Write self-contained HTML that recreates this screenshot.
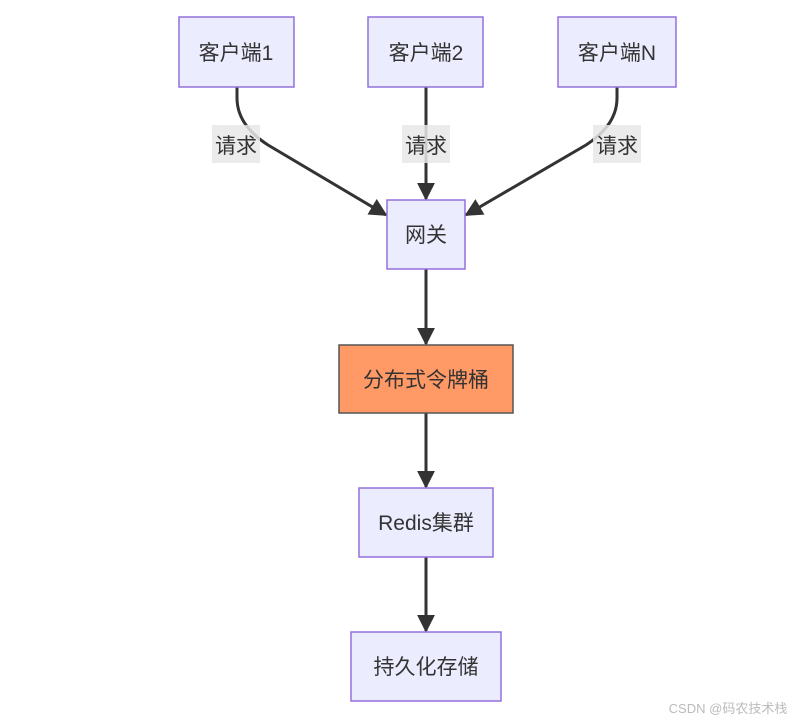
<!DOCTYPE html>
<html><head><meta charset="utf-8"><style>
html,body{margin:0;padding:0;background:#fff;}
svg{display:block;}
text{font-family:"Liberation Sans","Noto Sans CJK SC",sans-serif;fill:#333;}
</style></head><body>
<svg width="799" height="722" viewBox="0 0 799 722" xmlns="http://www.w3.org/2000/svg">
<defs>
<marker id="a" viewBox="0 0 10 10" refX="9" refY="5" markerWidth="6" markerHeight="6" markerUnits="strokeWidth" orient="auto">
<path d="M0,0 L10,5 L0,10 z" fill="#333"/>
</marker>
</defs>
<g fill="none" stroke="#333" stroke-width="3">
<path d="M237,87 L237,98 Q237,125 268,145 L386,215" marker-end="url(#a)"/>
<path d="M426,87 L426,199" marker-end="url(#a)"/>
<path d="M617,87 L617,98 Q617,125 586,145 L466,215" marker-end="url(#a)"/>
<path d="M426,269 L426,344" marker-end="url(#a)"/>
<path d="M426,413 L426,487" marker-end="url(#a)"/>
<path d="M426,557 L426,631" marker-end="url(#a)"/>
</g>
<g fill="#ececff" stroke="#9370db" stroke-width="1.5">
<rect x="179" y="17" width="115" height="70"/>
<rect x="368" y="17" width="115" height="70"/>
<rect x="558" y="17" width="118" height="70"/>
<rect x="387" y="200" width="78" height="69"/>
<rect x="359" y="488" width="134" height="69"/>
<rect x="351" y="632" width="150" height="69"/>
</g>
<rect x="339" y="345" width="174" height="68" fill="#ff9966" stroke="#555" stroke-width="1.5"/>
<g fill="#e8e8e8" opacity="0.85">
<rect x="212" y="125" width="48" height="38"/>
<rect x="402" y="125" width="48" height="38"/>
<rect x="593" y="125" width="48" height="38"/>
</g>
<g font-size="21" text-anchor="middle">
<text x="236" y="60">客户端1</text>
<text x="426" y="60">客户端2</text>
<text x="617" y="60">客户端N</text>
<text x="236" y="153">请求</text>
<text x="426" y="153">请求</text>
<text x="617" y="153">请求</text>
<text x="426" y="242">网关</text>
<text x="426" y="387">分布式令牌桶</text>
<text x="426" y="530">Redis集群</text>
<text x="426" y="674">持久化存储</text>
</g>
<text x="728" y="713" font-size="13" text-anchor="middle" style="fill:#bbb">CSDN @码农技术栈</text>
</svg>
</body></html>
